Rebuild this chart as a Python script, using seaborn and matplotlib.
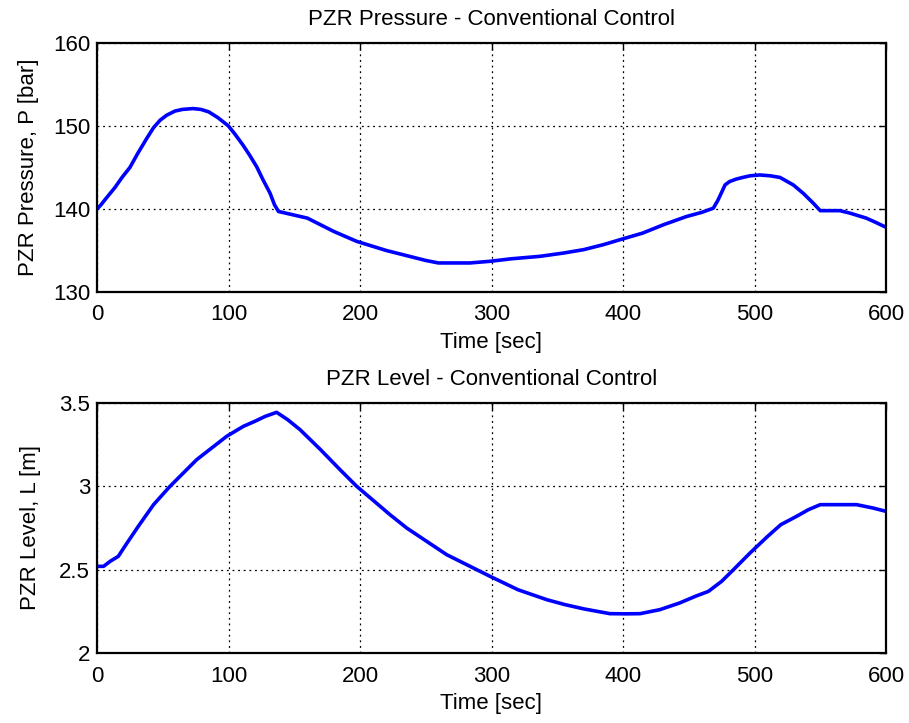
import matplotlib
matplotlib.use("Agg")
import matplotlib.pyplot as plt
import seaborn as sns
import pandas as pd

sns.set_style("white")
plt.rcParams['font.family'] = ['Liberation Sans', 'DejaVu Sans']
plt.rcParams['text.color'] = 'black'
plt.rcParams['axes.labelcolor'] = 'black'

# Pressure data (time [sec], pressure [bar])
p_time = [0, 3, 7, 13.7, 19, 25, 31, 37.8, 43, 48, 53, 59.3, 65, 73, 79, 85, 92, 100, 105,
          111, 116, 121.4, 126, 131.6, 135, 138, 160, 180, 197.5, 220, 240, 250, 259.6, 270,
          283.7, 298.9, 315, 337, 355, 370, 385, 397.7, 415, 430.7, 448.4, 460, 468.7, 472,
          475, 477.6, 481, 486, 491, 496.6, 504, 512, 519.4, 529.5, 537, 544.7, 550, 558, 565,
          572.6, 585, 592, 600]
p_vals = [140.0, 140.5, 141.3, 142.6, 143.8, 145.0, 146.7, 148.5, 149.8, 150.7, 151.3, 151.8,
          152.0, 152.1, 152.0, 151.7, 151.0, 150.0, 149.0, 147.7, 146.5, 145.1, 143.6, 141.9,
          140.5, 139.7, 138.9, 137.3, 136.1, 135.0, 134.2, 133.8, 133.5, 133.5, 133.5, 133.7,
          134.0, 134.3, 134.7, 135.1, 135.7, 136.3, 137.1, 138.1, 139.1, 139.6, 140.1, 141.0,
          142.0, 142.9, 143.3, 143.6, 143.8, 144.0, 144.1, 144.0, 143.8, 142.9, 141.9, 140.7,
          139.8, 139.8, 139.8, 139.5, 138.9, 138.4, 137.8]

# Level data (time [sec], level [m])
l_time = [0, 5, 10, 16.2, 22, 31.4, 43, 55.5, 75.8, 98.6, 111.3, 120, 128, 136.6, 145, 154.4,
          170, 184.8, 197.5, 222.8, 235.5, 265.9, 298.9, 320, 342, 356, 370, 390, 402, 413,
          428, 443, 455, 465, 475, 484, 496.6, 510, 520, 532, 541, 550, 577.7, 590, 600]
l_vals = [2.52, 2.52, 2.55, 2.58, 2.65, 2.76, 2.89, 3.00, 3.16, 3.30, 3.36, 3.39, 3.42, 3.444,
          3.40, 3.34, 3.22, 3.10, 3.00, 2.83, 2.75, 2.59, 2.46, 2.38, 2.32, 2.29, 2.265, 2.236,
          2.235, 2.236, 2.26, 2.30, 2.34, 2.37, 2.43, 2.50, 2.60, 2.70, 2.77, 2.82, 2.86,
          2.89, 2.89, 2.87, 2.85]

titles = ["PZR Pressure - Conventional Control", "PZR Level - Conventional Control"]
ylabels = ["PZR Pressure, P [bar]", "PZR Level, L [m]"]
xlabel = "Time [sec]"
x_ticks = [0, 100, 200, 300, 400, 500, 600]
p_ticks = [130, 140, 150, 160]
l_ticks = [2, 2.5, 3, 3.5]
l_ticklabels = ["2", "2.5", "3", "3.5"]

fig = plt.figure(figsize=(9.09, 7.23), dpi=100)
ax1 = fig.add_axes([97/909, 1-292/723, 789/909, 249/723])
ax2 = fig.add_axes([97/909, 1-653/723, 789/909, 250/723])

df_p = pd.DataFrame({"t": p_time, "v": p_vals})
df_l = pd.DataFrame({"t": l_time, "v": l_vals})

fs = 16
for ax, df, title, ylab, yt, lx in [(ax1, df_p, titles[0], ylabels[0], p_ticks, -0.074),
                                     (ax2, df_l, titles[1], ylabels[1], l_ticks, -0.071)]:
    sns.lineplot(data=df, x="t", y="v", ax=ax, color="#0000ff", linewidth=2.6, estimator=None)
    ax.set_xlim(0, 600)
    ax.set_ylim(yt[0], yt[-1])
    ax.set_xticks(x_ticks)
    ax.set_yticks(yt)
    ax.grid(True, color="black", linestyle=(0, (1.5, 3)), linewidth=0.9)
    ax.tick_params(direction="in", top=True, right=True, length=5, width=1,
                   labelsize=fs, color="black", labelcolor="black")
    ax.tick_params(axis="x", pad=9)
    ax.tick_params(axis="y", pad=5)
    for s in ax.spines.values():
        s.set_visible(True)
        s.set_color("black")
        s.set_linewidth(1.6)
    ax.set_title(title, fontsize=fs, pad=13, color="black")
    ax.set_xlabel(xlabel, fontsize=fs, labelpad=5, color="black")
    ax.set_ylabel(ylab, fontsize=fs, color="black")
    ax.yaxis.set_label_coords(lx, 0.5)

ax2.set_yticklabels(l_ticklabels)

fig.savefig("out.png", dpi=100)
